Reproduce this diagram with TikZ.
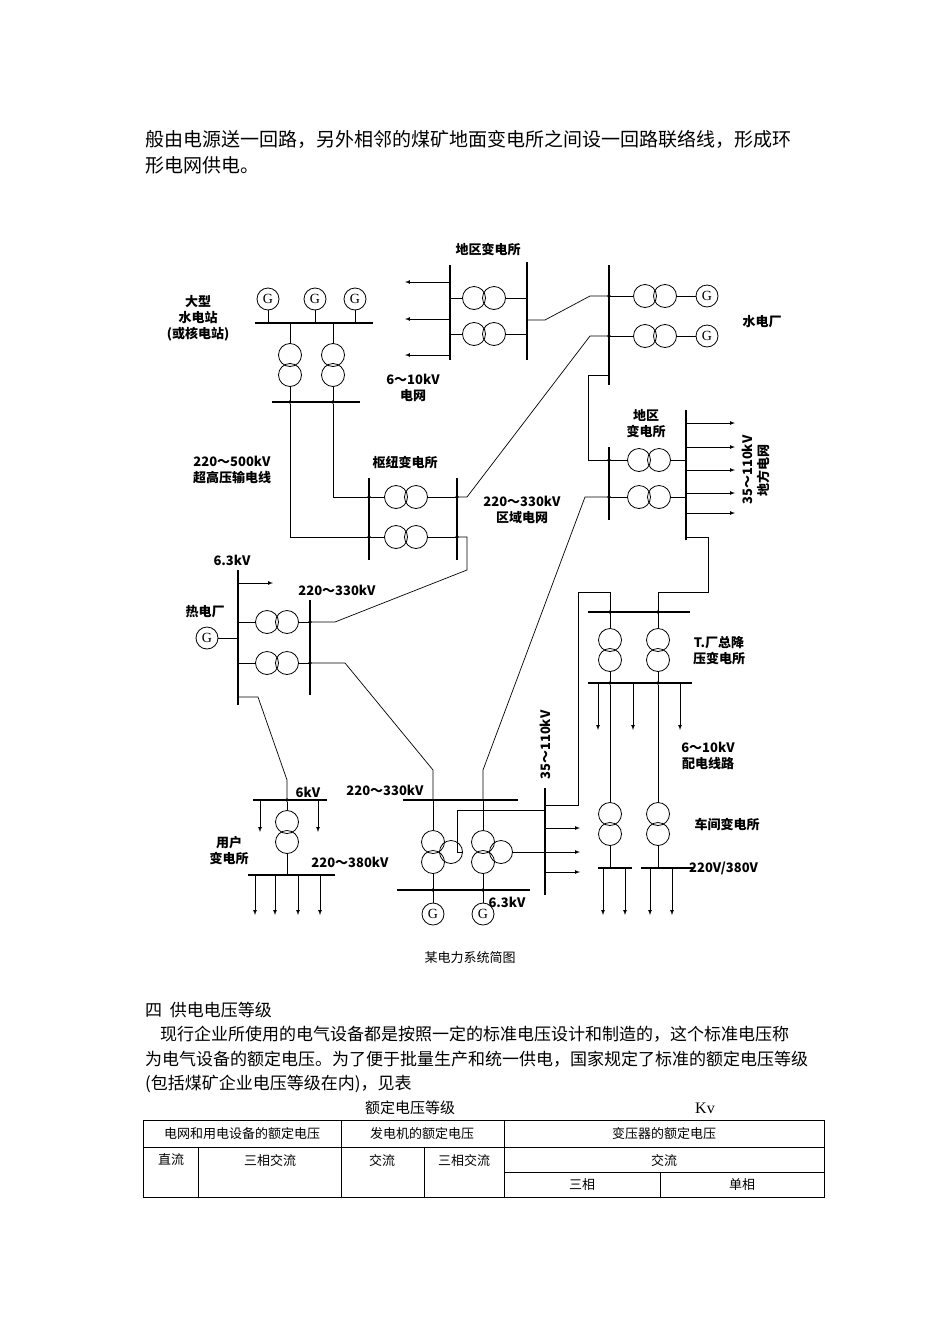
\documentclass[tikz,border=0pt]{standalone}
\usepackage{fontspec}
\setmainfont{Liberation Serif}
\newfontfamily\cjk{Noto Sans CJK SC}
\usetikzlibrary{arrows,calc,positioning}
\tikzset{
  bus/.style={line width=1.4pt},
  wire/.style={line width=0.7pt},
  arr/.style={->,>=latex,line width=0.7pt},
  coil/.style={circle,draw,line width=0.8pt,minimum size=23pt,inner sep=0pt},
  gen/.style={circle,draw,line width=0.8pt,minimum size=22pt,inner sep=0pt,font=\fontsize{14}{14}\selectfont},
  dot/.style={circle,fill,inner sep=1.4pt},
  lab/.style={font=\cjk\bfseries\fontsize{13}{16}\selectfont,align=center,inner sep=1pt},
  body/.style={font=\cjk\fontsize{17}{20}\selectfont,anchor=west,inner sep=0pt},
  cell/.style={font=\cjk\fontsize{13}{15}\selectfont,inner sep=0pt}
}
% horizontal and vertical transformer pairs
\newcommand{\htr}[3]{\node[coil] (#1a) at (#2-10,#3) {}; \node[coil] (#1b) at (#2+10,#3) {};}
\newcommand{\vtr}[3]{\node[coil] (#1a) at (#2,#3-10) {}; \node[coil] (#1b) at (#2,#3+10) {};}
\newcommand{\ttr}[3]{\node[coil] (#1a) at (#2,#3-10) {}; \node[coil] (#1b) at (#2,#3+10) {}; \node[coil] (#1c) at (#2+18,#3) {};}
\begin{document}
\begin{tikzpicture}[x=1pt,y=-1pt]
\useasboundingbox[fill=white] (0,0) rectangle (950,1344);

% text above
\node[body,font=\cjk\fontsize{19}{22}\selectfont] (t1) at (145,139) {般由电源送一回路，另外相邻的煤矿地面变电所之间设一回路联络线，形成环};
\node[body,font=\cjk\fontsize{19}{22}\selectfont] (t2) at (145,165) {形电网供电。};

% large hydro station
\node[gen] (g1) at (268,299) {G};
\node[gen] (g2) at (315,299) {G};
\node[gen] (g3) at (355,299) {G};
\draw[bus] (255,323) -- (373,323);
\draw[wire] (g1) -- (268,323) (g2) -- (315,323) (g3) -- (355,323);
\vtr{hyA}{290}{365}
\vtr{hyB}{333}{365}
\draw[wire] (290,323) -- (hyAa) (333,323) -- (hyBa);
\draw[bus] (272,402) -- (360,402);
\draw[wire] (hyAb) -- (290,402) (hyBb) -- (333,402);
\node[dot] (d1) at (290,402) {};
\node[dot] (d2) at (333,402) {};
\node[lab] (l1) at (198,318) {大型\\水电站\\(或核电站)};

% hub substation
\node[lab] (l2) at (405,463) {枢纽变电所};
\htr{hbA}{406}{497}
\htr{hbB}{406}{537}
\draw[bus] (369,478) -- (369,560);
\draw[bus] (457,478) -- (457,560);
\draw[wire] (369,497) -- (hbAa) (hbAb) -- (457,497) (369,537) -- (hbBa) (hbBb) -- (457,537);
\foreach \p in {(369,497),(369,537),(457,497),(457,537)} \node[dot] at \p {};
\draw[wire] (d1) -- (290,537) -- (369,537);
\draw[wire] (d2) -- (333,497) -- (369,497);
\node[lab] (l3) at (232,470) {220～500kV\\超高压输电线};

% regional substation, top
\node[lab] (l4) at (488,250) {地区变电所};
\htr{rgA}{484}{298}
\htr{rgB}{484}{334}
\draw[bus] (450,265) -- (450,360);
\draw[bus] (527,262) -- (527,360);
\draw[wire] (450,298) -- (rgAa) (rgAb) -- (527,298) (450,334) -- (rgBa) (rgBb) -- (527,334);
\foreach \y in {282,319,355} \draw[arr] (450,\y) -- (405,\y);
\node[lab] (l5) at (413,388) {6～10kV\\电网};

% hydro plant
\draw[bus] (609,265) -- (609,385);
\htr{hpA}{655}{296}
\htr{hpB}{655}{336}
\node[gen] (g4) at (707,296) {G};
\node[gen] (g5) at (707,336) {G};
\draw[wire] (609,296) -- (hpAa) (hpAb) -- (g4) (609,336) -- (hpBa) (hpBb) -- (g5);
\node[dot] at (609,296) {};
\node[dot] at (609,336) {};
\node[lab] (l6) at (762,322) {水电厂};
\draw[wire] (527,320) -- (545,320) -- (590,296) -- (609,296);
\draw[wire] (457,497) -- (467,497) -- (590,336) -- (609,336);

% regional substation, right
\node[lab] (l7) at (646,424) {地区\\变电所};
\htr{rgC}{649}{460}
\htr{rgD}{649}{497}
\draw[bus] (609,447) -- (609,520);
\draw[bus] (686,410) -- (686,540);
\draw[wire] (609,460) -- (rgCa) (rgCb) -- (686,460) (609,497) -- (rgDa) (rgDb) -- (686,497);
\node[dot] at (609,460) {};
\node[dot] at (609,497) {};
\foreach \y in {423,447,470,493,513} \draw[arr] (686,\y) -- (735,\y);
\node[lab,rotate=90] (l8) at (756,470) {35～110kV\\地方电网};
\draw[wire] (609,375) -- (588,375) -- (588,460) -- (609,460);
\node[lab] (l9) at (522,510) {220～330kV\\区域电网};

% thermal plant
\draw[bus] (238,570) -- (238,705);
\draw[arr] (238,583) -- (273,583);
\node[lab] (l10) at (232,560) {6.3kV};
\node[lab] (l11) at (205,612) {热电厂};
\node[gen] (g6) at (207,638) {G};
\draw[wire] (g6) -- (238,638);
\htr{thA}{277}{622}
\htr{thB}{277}{663}
\draw[bus] (310,600) -- (310,695);
\draw[wire] (238,622) -- (thAa) (thAb) -- (310,622) (238,663) -- (thBa) (thBb) -- (310,663);
\node[dot] at (310,622) {};
\node[dot] at (310,663) {};
\node[lab] (l12) at (337,590) {220～330kV};
\draw[wire] (457,537) -- (467,537) -- (467,570) -- (335,622) -- (310,622);

% user substation
\draw[wire] (238,697) -- (258,697) -- (287,780) -- (287,800);
\draw[bus] (253,800) -- (327,800);
\node[dot] (d3) at (287,800) {};
\node[lab] (l13) at (308,792) {6kV};
\foreach \x in {260,318} \draw[arr] (\x,800) -- (\x,832);
\vtr{usA}{287}{832}
\draw[wire] (d3) -- (usAa);
\draw[bus] (248,875) -- (335,875);
\draw[wire] (usAb) -- (287,875);
\foreach \x in {255,275,298,320} \draw[arr] (\x,875) -- (\x,915);
\node[lab] (l14) at (229,851) {用户\\变电所};
\node[lab] (l15) at (350,862) {220～380kV};

% power plant with three-winding transformers
\draw[bus] (403,800) -- (518,800);
\node[lab] (l16) at (385,790) {220～330kV};
\draw[wire] (310,663) -- (345,663) -- (433,770) -- (433,800);
\draw[wire] (609,497) -- (585,497) -- (483,770) -- (483,800);
\ttr{twA}{433}{852}
\ttr{twB}{483}{852}
\draw[wire] (433,800) -- (twAa) (483,800) -- (twBa);
\draw[bus] (397,890) -- (530,890);
\draw[wire] (twAb) -- (433,890) (twBb) -- (483,890);
\node[dot] at (433,890) {};
\node[dot] at (483,890) {};
\node[gen] (g7) at (433,914) {G};
\node[gen] (g8) at (483,914) {G};
\draw[wire] (433,890) -- (g7) (483,890) -- (g8);
\node[lab] (l17) at (507,902) {6.3kV};
\draw[bus] (545,788) -- (545,895);
\draw[wire] (twAc) -- (457,852) -- (457,810) -- (545,810);
\draw[wire] (twBc) -- (545,852);
\foreach \y in {828,852,872} \draw[arr] (545,\y) -- (580,\y);
\node[lab,rotate=90] (l18) at (545,745) {35～110kV};

% factory main substation
\draw[wire] (545,805) -- (578,805) -- (578,592) -- (610,592) -- (610,612);
\draw[wire] (686,537) -- (708,537) -- (708,592) -- (658,592) -- (658,612);
\draw[bus] (588,612) -- (690,612);
\node[dot] at (610,612) {};
\node[dot] at (658,612) {};
\vtr{fcA}{610}{650}
\vtr{fcB}{658}{650}
\draw[wire] (610,612) -- (fcAa) (658,612) -- (fcBa);
\draw[bus] (588,683) -- (692,683);
\draw[wire] (fcAb) -- (610,683) (fcBb) -- (658,683);
\node[dot] (d4) at (610,683) {};
\node[dot] (d5) at (658,683) {};
\foreach \x in {598,633,680} \draw[arr] (\x,683) -- (\x,730);
\node[lab] (l19) at (719,651) {T.厂总降\\压变电所};
\node[lab] (l20) at (708,756) {6～10kV\\配电线路};

% workshop substation
\vtr{wsA}{610}{824}
\vtr{wsB}{658}{824}
\draw[wire] (d4) -- (wsAa) (d5) -- (wsBa);
\draw[bus] (598,868) -- (632,868);
\draw[bus] (641,868) -- (693,868);
\draw[wire] (wsAb) -- (610,868) (wsBb) -- (658,868);
\foreach \x in {603,625,650,672} \draw[arr] (\x,868) -- (\x,915);
\node[lab] (l21) at (727,825) {车间变电所};
\node[lab,anchor=west] (l22) at (688,868) {220V/380V};

\node[font=\cjk\fontsize{13}{15}\selectfont] (cap) at (470,958) {某电力系统简图};

% text below
\node[body] (b1) at (145,1010) {四\ \ 供电电压等级};
\node[body] (b2) at (160,1034) {现行企业所使用的电气设备都是按照一定的标准电压设计和制造的，这个标准电压称};
\node[body] (b3) at (145,1059) {为电气设备的额定电压。为了便于批量生产和统一供电，国家规定了标准的额定电压等级};
\node[body] (b4) at (145,1084) {(包括煤矿企业电压等级在内)，见表};
\node[cell,font=\cjk\fontsize{15}{17}\selectfont] (tt) at (410,1108) {额定电压等级};
\node[cell,font=\fontsize{16}{18}\selectfont] (kv) at (705,1108) {Kv};

% table
\draw[line width=0.8pt] (143,1120) rectangle (824,1197);
\draw[line width=0.6pt] (143,1147) -- (824,1147) (504,1172) -- (824,1172)
  (198,1147) -- (198,1197) (341,1120) -- (341,1197) (424,1147) -- (424,1197)
  (504,1120) -- (504,1197) (660,1172) -- (660,1197);
\node[cell] (c1) at (242,1134) {电网和用电设备的额定电压};
\node[cell] (c2) at (422,1134) {发电机的额定电压};
\node[cell] (c3) at (664,1134) {变压器的额定电压};
\node[cell] (c4) at (171,1160) {直流};
\node[cell] (c5) at (270,1160) {三相交流};
\node[cell] (c6) at (382,1160) {交流};
\node[cell] (c7) at (464,1160) {三相交流};
\node[cell] (c8) at (664,1160) {交流};
\node[cell] (c9) at (582,1185) {三相};
\node[cell] (c10) at (742,1185) {单相};
\end{tikzpicture}
\end{document}
